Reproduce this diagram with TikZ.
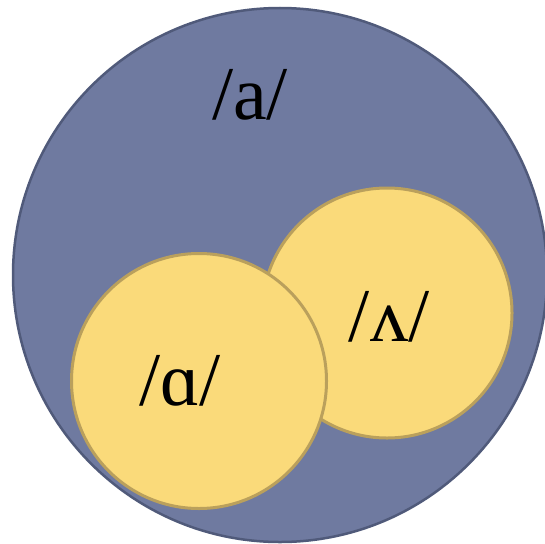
\documentclass[tikz,border=0pt]{standalone}
\usepackage{fontspec}
\setmainfont{Liberation Serif}

\definecolor{setblue}{RGB}{111,122,160}
\definecolor{setblueline}{RGB}{80,90,122}
\definecolor{subyellow}{RGB}{250,218,122}
\definecolor{subyellowline}{RGB}{186,160,92}

\begin{document}
\begin{tikzpicture}[
    x=1pt, y=-1pt,
    set/.style={circle, draw, line width=2.5pt, inner sep=0pt},
    subset/.style={set, fill=subyellow, draw=subyellowline, line width=3pt},
    phon/.style={font=\fontsize{76}{80}\selectfont, inner sep=0pt, anchor=base},
]
\useasboundingbox (0,0) rectangle (545,543);

% --- outer set /a/ ---
\node[set, fill=setblue, draw=setblueline, minimum size=534pt] (A) at (280,275) {};

% --- subset /ʌ/ (right, behind) ---
\node[subset, minimum size=250pt] (V) at (387,313) {};

% --- subset /ɑ/ (left, in front) ---
\node[subset, minimum size=255pt] (Q) at (199,381) {};

% --- labels ---
\node[phon] (Alab) at (250,119) {/a/};
\node[phon] (Vlab) at (389,341) {/ʌ/};
\node[phon] (Qlab) at (180,405) {/ɑ/};

\end{tikzpicture}
\end{document}
